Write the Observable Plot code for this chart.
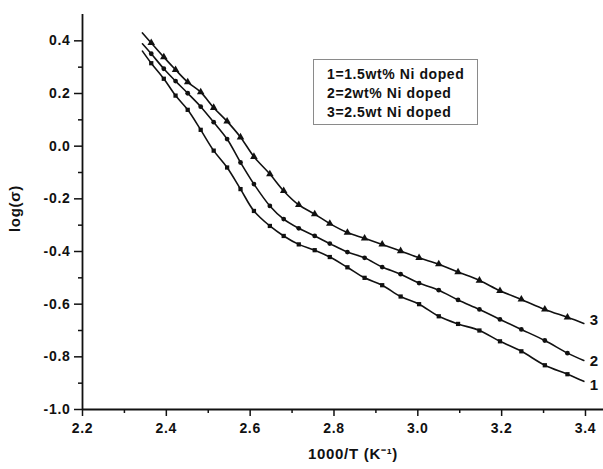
<!DOCTYPE html>
<html>
<head>
<meta charset="utf-8">
<script src="https://cdn.jsdelivr.net/npm/d3@7"></script>
<script src="https://cdn.jsdelivr.net/npm/@observablehq/plot@0.6"></script>
<style>
  body { margin: 0; background: #fff; }
  #wrap { position: relative; width: 603px; height: 469px; font-family: "Liberation Sans", Arial, sans-serif; }
  #wrap svg text { letter-spacing: 0.7px; }
  #legend { position: absolute; left: 313px; top: 59px; width: 165px; height: 66px; border: 1.5px solid #8a8a8a; box-sizing: border-box;
            padding: 5px 0 0 13px; font-weight: bold; font-size: 14px; line-height: 19px; letter-spacing: 0.6px; color: #111; }
</style>
</head>
<body>
<div id="wrap"><div id="legend"></div></div>
<script>
// 1000/T positions of the measured points (markers)
const xPoints = [2.364, 2.394, 2.422, 2.451, 2.482, 2.513, 2.545, 2.577, 2.609, 2.647, 2.680, 2.716, 2.754,
                 2.790, 2.832, 2.873, 2.915, 2.959, 3.003, 3.050, 3.096, 3.147, 3.196, 3.247, 3.303, 3.357];
// curve start / end (no marker)
const xEnds = [2.343, 3.396];

// log(sigma) values
const s1 = [0.315, 0.256, 0.192, 0.138, 0.062, -0.017, -0.081, -0.163, -0.246, -0.303, -0.341, -0.373, -0.395,
            -0.421, -0.460, -0.500, -0.528, -0.571, -0.600, -0.646, -0.675, -0.700, -0.741, -0.779, -0.832, -0.866];
const s1Ends = [0.361, -0.893];
const s2 = [0.351, 0.294, 0.247, 0.201, 0.150, 0.091, 0.027, -0.062, -0.144, -0.227, -0.277, -0.312, -0.341,
            -0.370, -0.402, -0.424, -0.459, -0.486, -0.520, -0.547, -0.584, -0.620, -0.658, -0.696, -0.738, -0.786];
const s2Ends = [0.389, -0.814];
const s3 = [0.392, 0.338, 0.290, 0.243, 0.205, 0.146, 0.094, 0.034, -0.040, -0.106, -0.170, -0.223, -0.258,
            -0.294, -0.328, -0.350, -0.373, -0.398, -0.424, -0.448, -0.478, -0.510, -0.549, -0.582, -0.620, -0.650];
const s3Ends = [0.430, -0.673];

const seriesIds = ["1", "2", "3"];
const legendLines = ["1=1.5wt% Ni doped", "2=2wt% Ni doped", "3=2.5wt Ni doped"];

const xMajor = [2.2, 2.4, 2.6, 2.8, 3.0, 3.2, 3.4];
const xMinor = [2.3, 2.5, 2.7, 2.9, 3.1, 3.3];
const yMajor = [-1.0, -0.8, -0.6, -0.4, -0.2, 0.0, 0.2, 0.4];
const yMinor = [-0.9, -0.7, -0.5, -0.3, -0.1, 0.1, 0.3];

const xTitle = "1000/T (K\u207B\u00B9)";
const yTitle = "log(\u03C3)";

// build tables
const allSeries = [[s1, s1Ends], [s2, s2Ends], [s3, s3Ends]];
const lineData = [];
const pointData = [];
const endData = [];
allSeries.forEach(([vals, ends], k) => {
  const id = seriesIds[k];
  lineData.push({x: xEnds[0], y: ends[0], s: id});
  vals.forEach((v, i) => {
    lineData.push({x: xPoints[i], y: v, s: id});
    pointData.push({x: xPoints[i], y: v, s: id});
  });
  lineData.push({x: xEnds[1], y: ends[1], s: id});
  endData.push({x: xEnds[1], y: ends[1], s: id});
});

const fmt = d => d.toFixed(1);
const labelDy = {"1": 4, "2": 1, "3": -3};

const chart = Plot.plot({
  width: 603,
  height: 469,
  marginLeft: 82,
  marginRight: 0,
  marginTop: 14,
  marginBottom: 60,
  x: {domain: [2.2, 3.443]},
  y: {domain: [-1.0, 0.5]},
  style: {fontFamily: "'Liberation Sans', Arial, sans-serif", fontSize: "14px", fontWeight: "bold", background: "white", color: "#111"},
  marks: [
    Plot.axisX({ticks: xMajor, tickSize: 7, tickPadding: 7, tickFormat: fmt, strokeWidth: 1.5, label: null, fontSize: 14, fontWeight: "bold"}),
    Plot.axisX({ticks: xMinor, tickSize: 4, tickFormat: () => "", strokeWidth: 1.5, label: null}),
    Plot.axisY({ticks: yMajor, tickSize: 8, tickPadding: 4, tickFormat: fmt, strokeWidth: 1.5, label: null, fontSize: 14, fontWeight: "bold"}),
    Plot.axisY({ticks: yMinor, tickSize: 4, tickFormat: () => "", strokeWidth: 1.5, label: null}),
    Plot.ruleX([2.2], {strokeWidth: 1.8}),
    Plot.ruleY([-1.0], {strokeWidth: 1.8}),
    Plot.line(lineData, {x: "x", y: "y", z: "s", curve: "catmull-rom", stroke: "#111", strokeWidth: 1.6}),
    Plot.dot(pointData.filter(d => d.s === "1"), {x: "x", y: "y", symbol: "square", r: 2.4, fill: "#111", stroke: "none"}),
    Plot.dot(pointData.filter(d => d.s === "2"), {x: "x", y: "y", symbol: "circle", r: 2.4, fill: "#111", stroke: "none"}),
    Plot.dot(pointData.filter(d => d.s === "3"), {x: "x", y: "y", symbol: "triangle", r: 2.8, fill: "#111", stroke: "none"}),
    ...seriesIds.map(id => Plot.text(endData.filter(d => d.s === id), {x: "x", y: "y", text: "s", dx: 6, dy: labelDy[id], textAnchor: "start", fontSize: 15, fontWeight: "bold"})),
    Plot.text([xTitle], {frameAnchor: "bottom", dx: 10, dy: 49, fontSize: 15, fontWeight: "bold"}),
    Plot.text([yTitle], {frameAnchor: "left", dx: -67, dy: 20, rotate: -90, fontSize: 15, fontWeight: "bold"})
  ]
});

const wrap = document.getElementById("wrap");
wrap.insertBefore(chart, wrap.firstChild);
document.getElementById("legend").innerHTML = legendLines.map(t => `<div>${t}</div>`).join("");
</script>
</body>
</html>
